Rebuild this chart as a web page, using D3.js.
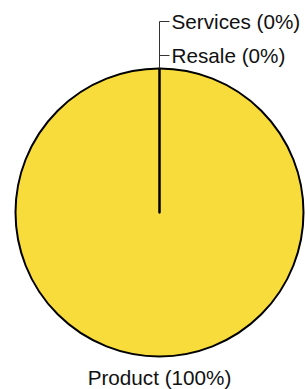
<!DOCTYPE html>
<html>
<head>
<meta charset="utf-8">
<script src="https://cdn.jsdelivr.net/npm/d3@7"></script>
<style>
  body { margin: 0; background: #fff; }
  svg { display: block; }
</style>
</head>
<body>
<svg id="chart"></svg>
<script>
// data
let categories = ["Product", "Resale", "Services"];
let values = [100, 0, 0];

let width = 305;
let height = 389;
let cx = 159.5;
let cy = 212.5;
let radius = 144;
let fill = "#f8dc3b";
let fontSize = 20.7;

let svg = d3.select("#chart")
            .attr("width", width)
            .attr("height", height);

let g = svg.append("g")
           .attr("transform", "translate(" + cx + "," + cy + ")");

let total = d3.sum(values);
let pctText = (v)=> Math.round(v / total * 100) + "%";

let pie = d3.pie()
            .sort(null)
            .value((d)=> d.value);

let slices = pie(categories.map((c, i)=>({name: c, value: values[i]})));

let arc = d3.arc()
            .innerRadius(0)
            .outerRadius(radius);

g.selectAll("path.slice")
 .data(slices)
 .enter()
 .append("path")
 .attr("class", "slice")
 .attr("d", arc)
 .attr("fill", fill)
 .attr("stroke", "#000")
 .attr("stroke-width", 2)
 .attr("stroke-linejoin", "round");

// labels: real slices outside at mid angle, empty slices stacked on a leader
let midAngle = (d)=> (d.startAngle + d.endAngle) / 2;
let zeroSlices = slices.filter((d)=> d.value === 0);
let bigSlices = slices.filter((d)=> d.value > 0);

g.selectAll("text.big")
 .data(bigSlices)
 .enter()
 .append("text")
 .attr("class", "big")
 .attr("x", (d)=> Math.sin(midAngle(d)) * (radius + 21))
 .attr("y", (d)=> -Math.cos(midAngle(d)) * (radius + 21))
 .attr("text-anchor", "middle")
 .attr("dominant-baseline", "central")
 .attr("font-family", "Liberation Sans, Arial, sans-serif")
 .attr("font-size", fontSize)
 .attr("fill", "#111")
 .text((d)=> d.data.name + " (" + pctText(d.value) + ")");

let step = 34;
let firstOff = 13;
let labelY = (d, i)=> -(radius + firstOff + i * step);

if (zeroSlices.length) {
  let a = midAngle(zeroSlices[0]);
  let x0 = Math.sin(a) * radius;
  let topY = d3.min(zeroSlices, labelY);
  g.append("line")
   .attr("x1", x0).attr("x2", x0)
   .attr("y1", -Math.cos(a) * radius)
   .attr("y2", topY)
   .attr("stroke", "#333")
   .attr("stroke-width", 1);

  let lab = g.selectAll("g.zero")
             .data(zeroSlices)
             .enter()
             .append("g")
             .attr("class", "zero");
  lab.append("line")
     .attr("x1", x0).attr("x2", x0 + 10)
     .attr("y1", labelY).attr("y2", labelY)
     .attr("stroke", "#333")
     .attr("stroke-width", 1);
  lab.append("text")
     .attr("x", x0 + 12)
     .attr("y", labelY)
     .attr("dominant-baseline", "central")
     .attr("font-family", "Liberation Sans, Arial, sans-serif")
     .attr("font-size", fontSize)
     .attr("fill", "#111")
     .text((d)=> d.data.name + " (" + pctText(d.value) + ")");
}
</script>
</body>
</html>
